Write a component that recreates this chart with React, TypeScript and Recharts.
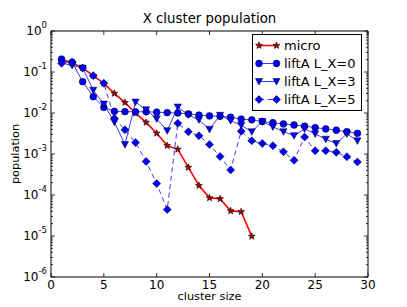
import React from 'react';
import { LineChart, Line, XAxis, YAxis, Legend, ReferenceArea } from 'recharts';

// cluster sizes and populations
const clusterSize = [1, 2, 3, 4, 5, 6, 7, 8, 9, 10, 11, 12, 13, 14, 15, 16, 17, 18, 19, 20, 21, 22, 23, 24, 25, 26, 27, 28, 29];
const micro = [0.19, 0.165, 0.125, 0.082, 0.053, 0.030, 0.018, 0.0099, 0.0059, 0.0032, 0.0016, 0.0013, 0.00047, 0.00017, 0.000085, 0.000081, 0.000041, 0.000039, 0.0000098];
const liftAL0 = [0.207, 0.172, 0.058, 0.025, 0.0137, 0.011, 0.0108, 0.0107, 0.0107, 0.0105, 0.0102, 0.0100, 0.0095, 0.0089, 0.0085, 0.0083, 0.0079, 0.0071, 0.0068, 0.0062, 0.0058, 0.0054, 0.0051, 0.0048, 0.0044, 0.0041, 0.0038, 0.0035, 0.0032];
const liftAL3 = [0.165, 0.145, 0.125, 0.036, 0.0165, 0.006, 0.0017, 0.0185, 0.012, 0.0072, 0.0037, 0.014, 0.009, 0.0068, 0.004, 0.0088, 0.0065, 0.005, 0.0035, 0.0062, 0.0046, 0.0035, 0.0028, 0.0041, 0.0031, 0.0023, 0.0018, 0.0031, 0.0021];
const liftAL5 = [0.163, 0.175, 0.125, 0.081, 0.053, 0.0074, 0.0039, 0.0019, 0.00066, 0.00019, 0.000044, 0.0056, 0.0035, 0.0028, 0.0017, 0.00087, 0.00041, 0.0036, 0.0021, 0.0018, 0.0016, 0.00113, 0.0007, 0.0026, 0.0012, 0.0012, 0.0011, 0.00086, 0.00064];

const xTicks = [0, 5, 10, 15, 20, 25, 30];
const yDecades = [-6, -5, -4, -3, -2, -1, 0];
const minorSteps = [2, 3, 4, 5, 6, 7, 8, 9];

const seriesNames = ['micro', 'liftA L_X=0', 'liftA L_X=3', 'liftA L_X=5'];

const data = clusterSize.map((n, i) => ({
  n,
  micro: micro[i],
  l0: liftAL0[i],
  l3: liftAL3[i],
  l5: liftAL5[i],
}));

const yMajor = yDecades.map((e) => Math.pow(10, e));
const yTicks: number[] = [...yMajor];
yDecades.slice(0, -1).forEach((e) => minorSteps.forEach((k) => yTicks.push(k * Math.pow(10, e))));

// plot box (px)
const LEFT = 51;
const RIGHT = 368;
const TOP = 31;
const BOTTOM = 277;

const FONT = '"DejaVu Sans", sans-serif';
const BLUE = '#0000ff';
const BLUE_LINE = '#3c3cff';
const RED = '#ff0000';

const starPath = (cx: number, cy: number, ro: number, ri: number) => {
  const pts: string[] = [];
  for (let k = 0; k < 10; k++) {
    const r = k % 2 === 0 ? ro : ri;
    const a = -Math.PI / 2 + (k * Math.PI) / 5;
    pts.push(`${cx + r * Math.cos(a)},${cy + r * Math.sin(a)}`);
  }
  return pts.join(' ');
};

const Star = ({ cx, cy }: any) => (
  <polygon points={starPath(cx, cy, 3.6, 1.5)} fill="#b00000" stroke="#000" strokeWidth={0.6} />
);
const Circle = ({ cx, cy }: any) => <circle cx={cx} cy={cy} r={3.4} fill={BLUE} stroke="#000" strokeWidth={0.5} />;
const TriDown = ({ cx, cy }: any) => (
  <polygon points={`${cx - 3.6},${cy - 3} ${cx + 3.6},${cy - 3} ${cx},${cy + 3.6}`} fill={BLUE} stroke="#000" strokeWidth={0.5} />
);
const Diamond = ({ cx, cy }: any) => (
  <polygon points={`${cx},${cy - 4} ${cx + 4},${cy} ${cx},${cy + 4} ${cx - 4},${cy}`} fill={BLUE} stroke="#000" strokeWidth={0.5} />
);

const makeDot = (Shape: any) => (props: any) => {
  const { cx, cy, index, value } = props;
  if (cx == null || cy == null || value == null) return <g key={`d${index}`} />;
  return <Shape key={`d${index}`} cx={cx} cy={cy} />;
};

const YTick = (props: any) => {
  const { y, payload } = props;
  const v = payload.value;
  const major = yMajor.some((m) => Math.abs(v - m) < m * 1e-6);
  const len = major ? 4 : 2;
  const exp = Math.round(Math.log10(v));
  return (
    <g>
      <line x1={LEFT} x2={LEFT + len} y1={y} y2={y} stroke="#000" strokeWidth={0.8} />
      <line x1={RIGHT} x2={RIGHT - len} y1={y} y2={y} stroke="#000" strokeWidth={0.8} />
      {major && (
        <text x={47} y={y + 4.3} textAnchor="end" fontSize={12} fontFamily={FONT} fill="#000">
          10
          <tspan dy={-7} fontSize={8.5}>{exp}</tspan>
        </text>
      )}
    </g>
  );
};

const XTick = (props: any) => {
  const { x, payload } = props;
  return (
    <g>
      <line x1={x} x2={x} y1={BOTTOM} y2={BOTTOM - 4} stroke="#000" strokeWidth={0.8} />
      <line x1={x} x2={x} y1={TOP} y2={TOP + 4} stroke="#000" strokeWidth={0.8} />
      <text x={x} y={289} textAnchor="middle" fontSize={12} fontFamily={FONT} fill="#000">
        {payload.value}
      </text>
    </g>
  );
};

const legendShapes = [Star, Circle, TriDown, Diamond];
const legendColors = [RED, BLUE_LINE, BLUE_LINE, BLUE_LINE];

const renderLegend = () => (
  <svg width={110} height={77} style={{ display: 'block' }}>
    <rect x={0.5} y={0.5} width={109} height={76} fill="#fff" stroke="#000" strokeWidth={1} />
    {seriesNames.map((name, i) => {
      const cy = 11.5 + i * 18;
      const Shape = legendShapes[i];
      return (
        <g key={name}>
          <line
            x1={7}
            x2={24.5}
            y1={cy}
            y2={cy}
            stroke={legendColors[i]}
            strokeWidth={i === 0 ? 1.6 : 1}
            strokeDasharray={i === 3 ? '5 3.5' : undefined}
          />
          <Shape cx={7} cy={cy} />
          <Shape cx={24.5} cy={cy} />
          <text x={32} y={cy + 4.5} fontSize={13} fontFamily={FONT} fill="#000">
            {name}
          </text>
        </g>
      );
    })}
  </svg>
);

export default function App() {
  return (
    <div style={{ position: 'absolute', left: 0, top: 0, width: 407, height: 307, background: '#fff' }}>
      <div
        style={{
          position: 'absolute',
          left: LEFT,
          width: RIGHT - LEFT,
          top: 10,
          textAlign: 'center',
          fontFamily: FONT,
          fontSize: 13.3,
          lineHeight: '18px',
          color: '#000',
        }}
      >
        X cluster population
      </div>
      <LineChart width={407} height={307} data={data} margin={{ top: TOP, right: 407 - RIGHT, bottom: 0, left: 0 }}>
        <XAxis
          dataKey="n"
          type="number"
          domain={[0, 30]}
          ticks={xTicks}
          interval={0}
          height={30}
          axisLine={false}
          tickLine={false}
          tick={<XTick />}
          label={{
            content: ({ viewBox }: any) => (
              <text x={viewBox.x + viewBox.width / 2} y={299.5} textAnchor="middle" fontSize={11.3} fontFamily={FONT} fill="#000">
                cluster size
              </text>
            ),
          }}
        />
        <YAxis
          type="number"
          scale="log"
          domain={[1e-6, 1]}
          allowDataOverflow
          ticks={yTicks}
          interval={0}
          width={LEFT}
          axisLine={false}
          tickLine={false}
          tick={<YTick />}
          label={{
            content: ({ viewBox }: any) => {
              const cy = viewBox.y + viewBox.height / 2;
              return (
                <text x={19} y={cy} transform={`rotate(-90, 19, ${cy})`} textAnchor="middle" fontSize={11.3} fontFamily={FONT} fill="#000">
                  population
                </text>
              );
            },
          }}
        />
        <Line dataKey="micro" name={seriesNames[0]} stroke={RED} strokeWidth={1.6} dot={makeDot(Star)} isAnimationActive={false} />
        <Line dataKey="l0" name={seriesNames[1]} stroke={BLUE_LINE} strokeWidth={1} dot={makeDot(Circle)} isAnimationActive={false} />
        <Line dataKey="l3" name={seriesNames[2]} stroke={BLUE_LINE} strokeWidth={1} dot={makeDot(TriDown)} isAnimationActive={false} />
        <Line
          dataKey="l5"
          name={seriesNames[3]}
          stroke={BLUE_LINE}
          strokeWidth={1}
          strokeDasharray="5 3.5"
          dot={makeDot(Diamond)}
          isAnimationActive={false}
        />
        <ReferenceArea x1={0} x2={30} y1={1e-6} y2={1} fill="none" stroke="#000" strokeWidth={1} ifOverflow="visible" />
        <Legend
          content={renderLegend}
          layout="vertical"
          align="center"
          verticalAlign="middle"
          wrapperStyle={{ left: 252, top: 34, width: 110, height: 77 }}
        />
      </LineChart>
    </div>
  );
}
